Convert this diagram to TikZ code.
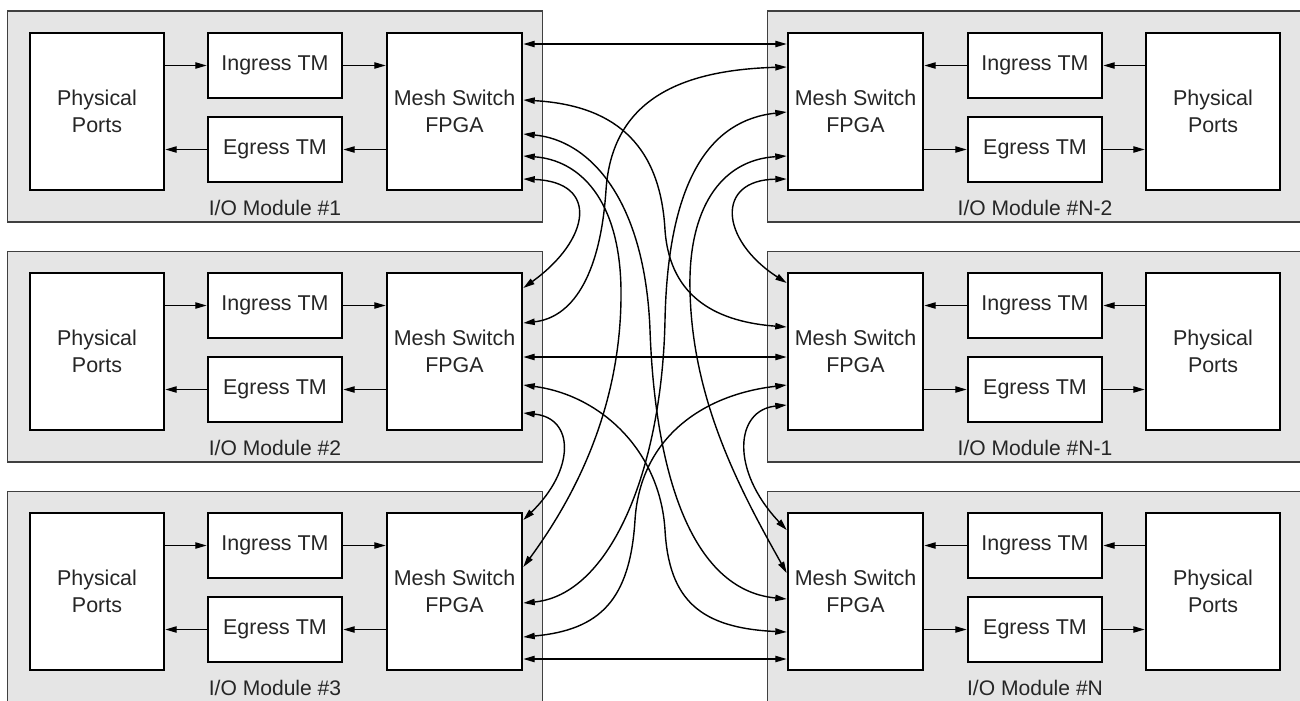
\documentclass[tikz,border=0pt]{standalone}
\usepackage{fontspec}
\setmainfont{Liberation Sans}
\usetikzlibrary{arrows.meta,calc}

\tikzset{
  modbox/.style={draw=black!75, fill=black!10, line width=0.6pt,
    minimum width=10.72cm, minimum height=4.22cm, inner sep=0pt},
  blk/.style={draw=black, fill=white, line width=1.5pt, align=center,
    inner sep=0pt, text=black!85, font=\fontsize{12.2}{15}\selectfont},
  tallblk/.style={blk, minimum width=2.68cm, minimum height=3.14cm},
  shortblk/.style={blk, minimum width=2.68cm, minimum height=1.30cm},
  lbl/.style={text=black!85, font=\fontsize{12}{14}\selectfont, inner sep=0pt},
  flow/.style={line width=0.8pt, -{Triangle[length=6.5pt,width=3.6pt]}},
  link/.style={line width=0.8pt,
    {Triangle[length=6.5pt,width=3.6pt]}-{Triangle[length=6.5pt,width=3.6pt]}},
}

% I/O module with the mesh switch on its right-hand side
\newcommand\ioleft[3]{%
  \begin{scope}[shift={(0,#2)}]
    \node[modbox] (#1box) at (275,116.5) {};
    \node[lbl] (#1lbl) at (275,208) {#3};
    \node[tallblk] (#1p) at (97,111.5) {Physical\\Ports};
    \node[shortblk] (#1i) at (275,65.5) {Ingress TM};
    \node[shortblk] (#1e) at (275,149.5) {Egress TM};
    \node[tallblk, minimum width=2.70cm] (#1m) at (454.5,111.5) {Mesh Switch\\FPGA};
    \draw[flow] (#1p.east |- #1i.west) -- (#1i.west);
    \draw[flow] (#1i.east) -- (#1m.west |- #1i.east);
    \draw[flow] (#1m.west |- #1e.east) -- (#1e.east);
    \draw[flow] (#1e.west) -- (#1p.east |- #1e.west);
  \end{scope}}

% I/O module with the mesh switch on its left-hand side
\newcommand\ioright[3]{%
  \begin{scope}[shift={(0,#2)}]
    \node[modbox] (#1box) at (1035,116.5) {};
    \node[lbl] (#1lbl) at (1035,208) {#3};
    \node[tallblk] (#1p) at (1213,111.5) {Physical\\Ports};
    \node[shortblk] (#1i) at (1035,65.5) {Ingress TM};
    \node[shortblk] (#1e) at (1035,149.5) {Egress TM};
    \node[tallblk, minimum width=2.70cm] (#1m) at (855.5,111.5) {Mesh Switch\\FPGA};
    \draw[flow] (#1p.west |- #1i.east) -- (#1i.east);
    \draw[flow] (#1i.west) -- (#1m.east |- #1i.west);
    \draw[flow] (#1m.east |- #1e.west) -- (#1e.west);
    \draw[flow] (#1e.east) -- (#1p.west |- #1e.east);
  \end{scope}}

\begin{document}
\begin{tikzpicture}[x=0.02cm, y=-0.02cm]
  \useasboundingbox (0,0) rectangle (1300,700);

  \ioleft{L1}{0}{I/O Module \#1}
  \ioleft{L2}{240}{I/O Module \#2}
  \ioleft{L3}{480}{I/O Module \#3}
  \ioright{R1}{0}{I/O Module \#N-2}
  \ioright{R2}{240}{I/O Module \#N-1}
  \ioright{R3}{480}{I/O Module \#N}

  % straight links
  \draw[link] (L1m.east |- 0,44) -- (R1m.west |- 0,44);
  \draw[link] (L2m.east |- 0,357) -- (R2m.west |- 0,357);
  \draw[link] (L3m.east |- 0,659) -- (R3m.west |- 0,659);

  % loops between neighbouring modules on the same side
  \draw[link] (L1m.east |- 0,179) .. controls (600,182) and (590,240) .. (L2m.east |- 0,288);
  \draw[link] (L2m.east |- 0,413) .. controls (575,418) and (575,470) .. (L3m.east |- 0,520);
  \draw[link] (R1m.west |- 0,179) .. controls (715,180) and (720,240) .. (R2m.west |- 0,283);
  \draw[link] (R2m.west |- 0,405) .. controls (735,410) and (730,470) .. (R3m.west |- 0,530);

  % long links
  \draw[link] (R1m.west |- 0,67) .. controls (680,70) and (612,100) .. (606,190)
    .. controls (600,280) and (570,318) .. (L2m.east |- 0,323);
  \draw[link] (L1m.east |- 0,100) .. controls (610,105) and (660,140) .. (665,230)
    .. controls (670,300) and (720,322) .. (R2m.west |- 0,327);
  \draw[link] (L1m.east |- 0,156) .. controls (580,160) and (620,200) .. (621,290)
    .. controls (622,400) and (580,490) .. (L3m.east |- 0,567);
  \draw[link] (L1m.east |- 0,134) .. controls (590,140) and (645,200) .. (650,330)
    .. controls (655,470) and (690,590) .. (R3m.west |- 0,599);
  \draw[link] (R1m.west |- 0,112) .. controls (710,120) and (668,180) .. (665,320)
    .. controls (662,470) and (610,595) .. (L3m.east |- 0,603);
  \draw[link] (R1m.west |- 0,156) .. controls (720,160) and (688,210) .. (690,290)
    .. controls (692,400) and (740,490) .. (R3m.west |- 0,573);
  \draw[link] (R2m.west |- 0,385) .. controls (700,395) and (640,440) .. (635,520)
    .. controls (630,600) and (600,630) .. (L3m.east |- 0,637);
  \draw[link] (L2m.east |- 0,385) .. controls (600,395) and (660,450) .. (665,530)
    .. controls (669,600) and (700,628) .. (R3m.west |- 0,632);
\end{tikzpicture}
\end{document}
